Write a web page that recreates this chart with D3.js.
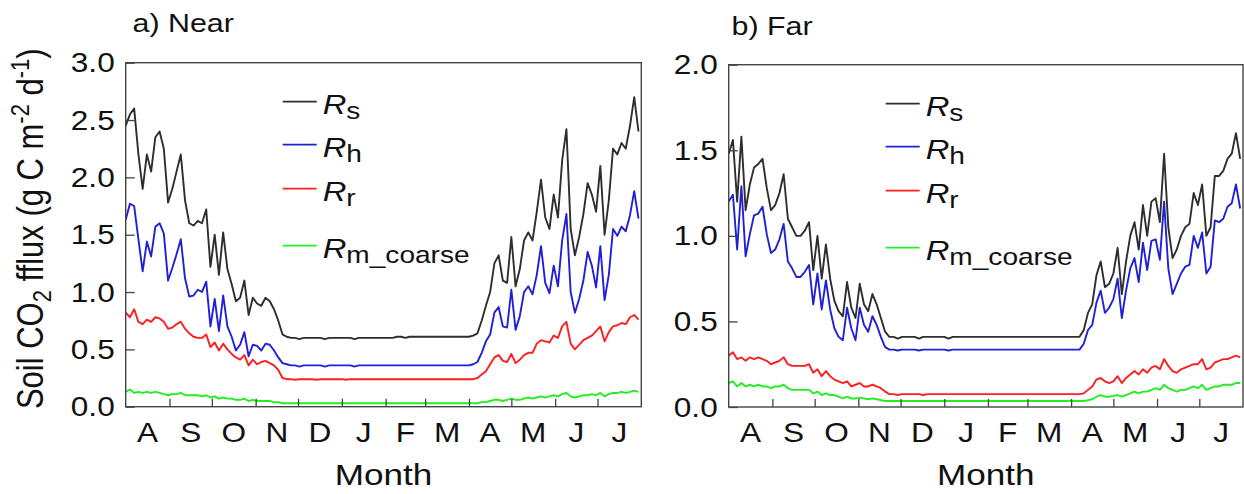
<!DOCTYPE html>
<html>
<head>
<meta charset="utf-8">
<script src="https://cdn.jsdelivr.net/npm/d3@7"></script>
<style>
  html, body { margin: 0; padding: 0; background: #fff; }
  svg { display: block; }
  text { font-family: "Liberation Sans", Arial, sans-serif; fill: #111; }
</style>
</head>
<body>
<svg id="chart" width="1244" height="494"></svg>
<script>
// ---- data: daily soil CO2 flux sampled every 3 days, 1 Aug – 31 Jul ----
const monthLabels = ["A", "S", "O", "N", "D", "J", "F", "M", "A", "M", "J", "J"];
const stepDays = 3;

const nearRs = [2.45,2.55,2.60,2.20,1.90,2.20,2.05,2.35,2.40,2.25,
  1.78,1.90,2.05,2.20,1.80,1.60,1.58,1.62,1.60,1.72,
  1.22,1.50,1.15,1.52,1.20,1.07,0.92,0.95,1.10,0.80,
  0.95,0.90,0.88,0.95,0.92,0.85,0.75,0.63,
  0.61,0.60,0.60,0.59,0.60,0.60,0.60,0.60,0.60,0.59,
  0.60,0.60,0.60,0.60,0.60,0.60,0.59,0.60,0.60,0.60,
  0.60,0.60,0.60,0.60,0.60,0.60,0.61,0.61,0.60,0.61,
  0.61,0.61,0.61,0.61,0.61,0.61,0.61,0.61,0.61,0.61,
  0.61,0.61,0.61,0.61,0.62,
  0.64,0.75,0.88,1.00,1.25,1.32,1.10,
  1.08,1.48,1.05,1.20,1.45,1.52,1.45,1.70,1.98,1.65,
  1.55,1.85,1.65,2.15,2.42,1.55,1.32,1.48,1.68,1.95,
  1.85,1.70,2.10,1.50,1.80,2.25,2.20,2.30,2.25,2.45,
  2.70,2.40];

const nearRh = [1.63,1.77,1.75,1.46,1.18,1.44,1.31,1.57,1.60,1.51,
  1.10,1.21,1.33,1.46,1.12,0.96,0.97,1.02,1.00,1.09,
  0.70,0.94,0.66,0.97,0.70,0.61,0.49,0.54,0.65,0.44,
  0.54,0.53,0.49,0.55,0.54,0.49,0.43,0.38,
  0.37,0.36,0.36,0.35,0.36,0.36,0.36,0.36,0.36,0.35,
  0.36,0.36,0.36,0.36,0.36,0.36,0.35,0.36,0.36,0.36,
  0.36,0.36,0.36,0.36,0.36,0.36,0.36,0.36,0.36,0.36,
  0.36,0.36,0.36,0.36,0.36,0.36,0.36,0.36,0.36,0.36,
  0.36,0.36,0.36,0.36,0.37,
  0.39,0.47,0.57,0.63,0.82,0.87,0.70,
  0.69,1.02,0.67,0.79,1.00,1.05,0.98,1.15,1.40,1.08,
  0.99,1.23,1.05,1.45,1.68,1.00,0.82,0.94,1.10,1.35,
  1.23,1.04,1.40,0.93,1.15,1.55,1.49,1.57,1.53,1.67,
  1.88,1.64];

const nearRr = [0.82,0.78,0.85,0.74,0.72,0.76,0.74,0.78,0.77,0.74,
  0.68,0.69,0.72,0.74,0.68,0.64,0.61,0.60,0.60,0.63,
  0.52,0.56,0.49,0.55,0.50,0.46,0.43,0.41,0.45,0.36,
  0.41,0.37,0.39,0.40,0.38,0.36,0.32,0.25,
  0.24,0.24,0.235,0.24,0.24,0.24,0.24,0.235,0.24,0.24,
  0.24,0.24,0.24,0.24,0.235,0.24,0.24,0.24,0.24,0.24,
  0.24,0.24,0.24,0.24,0.24,0.24,0.24,0.24,0.24,0.24,
  0.24,0.24,0.24,0.24,0.24,0.24,0.24,0.24,0.24,0.24,
  0.24,0.24,0.24,0.24,0.24,
  0.25,0.28,0.31,0.37,0.43,0.45,0.40,
  0.39,0.46,0.38,0.41,0.45,0.47,0.47,0.55,0.58,0.57,
  0.56,0.62,0.60,0.70,0.74,0.55,0.50,0.54,0.58,0.60,
  0.62,0.66,0.70,0.57,0.65,0.70,0.71,0.73,0.72,0.78,
  0.80,0.76];

const nearRm = [0.13,0.15,0.12,0.13,0.12,0.13,0.12,0.13,0.12,0.11,
  0.10,0.11,0.11,0.12,0.10,0.10,0.10,0.10,0.09,0.10,
  0.08,0.09,0.07,0.08,0.07,0.07,0.06,0.06,0.07,0.05,
  0.06,0.05,0.05,0.05,0.05,0.04,0.04,0.03,
  0.03,0.03,0.03,0.03,0.03,0.03,0.03,0.03,0.03,0.03,
  0.03,0.03,0.03,0.03,0.03,0.03,0.03,0.03,0.03,0.03,
  0.03,0.03,0.03,0.03,0.03,0.03,0.03,0.03,0.03,0.03,
  0.03,0.03,0.03,0.03,0.03,0.03,0.03,0.03,0.03,0.03,
  0.03,0.03,0.03,0.03,0.03,
  0.03,0.04,0.04,0.05,0.06,0.06,0.05,
  0.06,0.07,0.06,0.06,0.07,0.08,0.07,0.08,0.09,0.08,
  0.09,0.10,0.09,0.11,0.12,0.09,0.08,0.09,0.10,0.10,
  0.11,0.10,0.12,0.09,0.11,0.12,0.12,0.13,0.12,0.13,
  0.14,0.13];

const farRs = [1.48,1.56,1.20,1.58,1.15,1.30,1.40,1.42,1.45,1.28,
  1.15,1.18,1.25,1.36,1.10,1.05,1.00,1.00,1.03,1.08,
  0.80,1.00,0.75,0.95,0.75,0.62,0.56,0.53,0.73,0.58,
  0.52,0.72,0.60,0.56,0.66,0.60,0.52,0.44,
  0.41,0.41,0.40,0.41,0.41,0.41,0.41,0.40,0.41,0.41,
  0.41,0.41,0.41,0.41,0.40,0.41,0.41,0.41,0.41,0.41,
  0.41,0.41,0.41,0.41,0.41,0.41,0.41,0.41,0.41,0.41,
  0.41,0.41,0.41,0.41,0.41,0.41,0.41,0.41,0.41,0.41,
  0.41,0.41,0.41,0.41,0.41,
  0.41,0.45,0.55,0.60,0.77,0.85,0.70,
  0.72,0.78,0.93,0.66,0.85,1.00,1.08,0.92,1.18,1.00,
  1.20,1.22,1.08,1.48,1.05,0.87,0.92,1.00,1.05,1.07,
  1.25,1.18,1.30,1.00,1.05,1.35,1.35,1.38,1.45,1.48,
  1.60,1.45];

const farRh = [1.20,1.24,0.92,1.29,0.88,1.01,1.12,1.13,1.17,1.01,
  0.90,0.92,0.98,1.07,0.85,0.81,0.76,0.76,0.79,0.83,
  0.60,0.78,0.57,0.74,0.57,0.46,0.41,0.39,0.58,0.46,
  0.39,0.58,0.48,0.44,0.53,0.48,0.41,0.35,
  0.335,0.335,0.33,0.335,0.335,0.335,0.335,0.33,0.335,0.335,
  0.335,0.335,0.335,0.335,0.33,0.335,0.335,0.335,0.335,0.335,
  0.335,0.335,0.335,0.335,0.335,0.335,0.335,0.335,0.335,0.335,
  0.335,0.335,0.335,0.335,0.335,0.335,0.335,0.335,0.335,0.335,
  0.335,0.335,0.335,0.335,0.335,
  0.335,0.37,0.45,0.48,0.61,0.68,0.55,
  0.58,0.63,0.75,0.52,0.68,0.81,0.87,0.73,0.96,0.80,
  0.97,0.98,0.86,1.20,0.81,0.66,0.72,0.78,0.82,0.83,
  1.00,0.93,1.02,0.78,0.82,1.09,1.08,1.10,1.17,1.19,
  1.30,1.16];

const farRr = [0.30,0.32,0.28,0.29,0.27,0.29,0.28,0.29,0.28,0.27,
  0.25,0.26,0.27,0.29,0.25,0.24,0.24,0.24,0.24,0.25,
  0.20,0.22,0.18,0.21,0.18,0.16,0.15,0.14,0.15,0.12,
  0.13,0.14,0.12,0.12,0.13,0.12,0.11,0.09,
  0.075,0.075,0.07,0.075,0.075,0.075,0.075,0.075,0.07,0.075,
  0.075,0.075,0.075,0.075,0.075,0.075,0.075,0.075,0.075,0.075,
  0.075,0.075,0.075,0.075,0.075,0.075,0.075,0.075,0.075,0.075,
  0.075,0.075,0.075,0.075,0.075,0.075,0.075,0.075,0.075,0.075,
  0.075,0.075,0.075,0.075,0.075,
  0.075,0.08,0.10,0.12,0.16,0.17,0.15,
  0.14,0.15,0.18,0.14,0.17,0.19,0.21,0.19,0.22,0.20,
  0.23,0.24,0.22,0.28,0.24,0.21,0.20,0.22,0.23,0.24,
  0.25,0.25,0.28,0.22,0.23,0.26,0.27,0.28,0.28,0.29,
  0.30,0.29];

const farRm = [0.14,0.15,0.12,0.14,0.12,0.13,0.12,0.13,0.12,0.12,
  0.11,0.12,0.12,0.13,0.11,0.10,0.10,0.10,0.10,0.10,
  0.08,0.09,0.07,0.08,0.07,0.07,0.06,0.05,0.06,0.05,
  0.05,0.055,0.05,0.045,0.05,0.045,0.04,0.035,
  0.035,0.035,0.035,0.035,0.035,0.035,0.035,0.035,0.035,0.035,
  0.035,0.035,0.035,0.035,0.035,0.035,0.035,0.035,0.035,0.035,
  0.035,0.035,0.035,0.035,0.035,0.035,0.035,0.035,0.035,0.035,
  0.035,0.035,0.035,0.035,0.035,0.035,0.035,0.035,0.035,0.035,
  0.035,0.035,0.035,0.035,0.035,
  0.035,0.035,0.04,0.045,0.06,0.07,0.06,
  0.06,0.065,0.07,0.06,0.07,0.08,0.09,0.08,0.09,0.09,
  0.10,0.11,0.10,0.13,0.11,0.10,0.09,0.10,0.10,0.11,
  0.12,0.11,0.13,0.10,0.11,0.12,0.12,0.13,0.13,0.13,
  0.14,0.14];

const seriesNames = ["Rs", "Rh", "Rr", "Rm_coarse"];
const legendSubs = ["s", "h", "r", "m_coarse"];
const yTicksNear = [0, 0.5, 1.0, 1.5, 2.0, 2.5, 3.0];
const yTicksFar = [0, 0.5, 1.0, 1.5, 2.0];

// ---- layout & style ----
const colors = { Rs: "#2e2e2e", Rh: "#2020d6", Rr: "#ff1e1e", Rm_coarse: "#22ee22" };
const SX = 1.17;               // horizontal stretch of the lettering
const startDate = new Date(2014, 7, 1);
const endDate = new Date(2015, 7, 1);

const panels = [
  { title: "a) Near", titleX: 132.5, titleY: 32, yTicks: yTicksNear, yMax: 3,
    box: { l: 125.7, r: 641.3, t: 62.7, b: 406.7 },
    data: { Rs: nearRs, Rh: nearRh, Rr: nearRr, Rm_coarse: nearRm }, yTitle: true },
  { title: "b) Far", titleX: 731.5, titleY: 35, yTicks: yTicksFar, yMax: 2,
    box: { l: 728.7, r: 1243, t: 64.7, b: 407 },
    data: { Rs: farRs, Rh: farRh, Rr: farRr, Rm_coarse: farRm }, yTitle: false }
];

const svg = d3.select("#chart");
svg.append("rect").attr("width", 1244).attr("height", 494).attr("fill", "#fff");

function stretchedText(g, x, y, str, size, anchor) {
  return g.append("text")
    .attr("transform", `translate(${x},${y}) scale(${SX},1)`)
    .attr("text-anchor", anchor || "start")
    .attr("font-size", size)
    .text(str);
}

panels.forEach((p, pi) => {
  const { l, r, t, b } = p.box;
  const x = d3.scaleTime().domain([startDate, endDate]).range([l, r]);
  const y = d3.scaleLinear().domain([0, p.yMax]).range([b, t]);
  const g = svg.append("g");

  const clipId = "clip" + pi;
  g.append("clipPath").attr("id", clipId)
    .append("rect").attr("x", l).attr("y", t).attr("width", r - l).attr("height", b - t);

  // series lines
  const line = d3.line()
    .x((d, i) => x(d3.timeDay.offset(startDate, i * stepDays)))
    .y(d => y(d));
  const plot = g.append("g").attr("clip-path", `url(#${clipId})`);
  seriesNames.slice().reverse().forEach(name => {
    plot.append("path")
      .datum(p.data[name])
      .attr("fill", "none")
      .attr("stroke", colors[name])
      .attr("stroke-width", 1.9)
      .attr("stroke-linejoin", "round")
      .attr("d", line);
  });

  // y axis: inward ticks, labels on the left
  const yAxis = d3.axisLeft(y).tickValues(p.yTicks).tickSize(-9).tickFormat("");
  const ya = g.append("g").attr("transform", `translate(${l},0)`).call(yAxis);
  ya.select(".domain").remove();
  ya.selectAll(".tick line").attr("stroke", "#444").attr("stroke-width", 1.3);
  p.yTicks.forEach(v => {
    stretchedText(g, l - 11, y(v) + 9.6, d3.format(".1f")(v), 27, "end");
  });

  // x axis: month boundaries as inward ticks, month initials centred between them
  const monthStarts = d3.timeMonth.range(d3.timeMonth.offset(startDate, 1), endDate);
  const xAxis = d3.axisBottom(x).tickValues(monthStarts).tickSize(-8).tickFormat("");
  const xa = g.append("g").attr("transform", `translate(0,${b})`).call(xAxis);
  xa.select(".domain").remove();
  xa.selectAll(".tick line").attr("stroke", "#444").attr("stroke-width", 1.3);
  d3.timeMonth.range(startDate, endDate).forEach((m, i) => {
    const mid = x(new Date((+m + +d3.timeMonth.offset(m, 1)) / 2));
    stretchedText(g, mid, 441.5, monthLabels[i], 27, "middle");
  });

  // frame
  g.append("rect").attr("x", l).attr("y", t).attr("width", r - l).attr("height", b - t)
    .attr("fill", "none").attr("stroke", "#444").attr("stroke-width", 1.4);

  // axis title and panel title
  stretchedText(g, (l + r) / 2, 485, "Month", 30, "middle");
  stretchedText(g, p.titleX, p.titleY, p.title, 26, "start");

  // legend
  const legendY = [t + 39, t + 82, t + 126, t + 183];
  seriesNames.forEach((name, i) => {
    const ly = legendY[i];
    g.append("line").attr("x1", l + 157).attr("x2", l + 191).attr("y1", ly).attr("y2", ly)
      .attr("stroke", colors[name]).attr("stroke-width", 1.8);
    const tx = g.append("text")
      .attr("transform", `translate(${l + 197},${ly + 12}) scale(${SX},1)`)
      .attr("font-size", 28);
    tx.append("tspan").attr("font-style", "italic").text("R");
    tx.append("tspan").attr("font-size", 24).attr("dy", 5).text(legendSubs[i]);
  });

  // y axis title (left panel only)
  if (p.yTitle) {
    const yt = svg.append("text")
      .attr("transform", `translate(43,${(t + b) / 2 - 6}) scale(${SX},1) rotate(-90)`)
      .attr("text-anchor", "middle")
      .attr("font-size", 31);
    yt.append("tspan").text("Soil CO");
    yt.append("tspan").attr("font-size", 22).attr("dy", 7).text("2");
    yt.append("tspan").attr("dy", -7).text(" fflux (g C m");
    yt.append("tspan").attr("font-size", 22).attr("dy", -12).text("-2");
    yt.append("tspan").attr("dy", 12).text(" d");
    yt.append("tspan").attr("font-size", 22).attr("dy", -12).text("-1");
    yt.append("tspan").attr("dy", 12).text(")");
  }
});
</script>
</body>
</html>
